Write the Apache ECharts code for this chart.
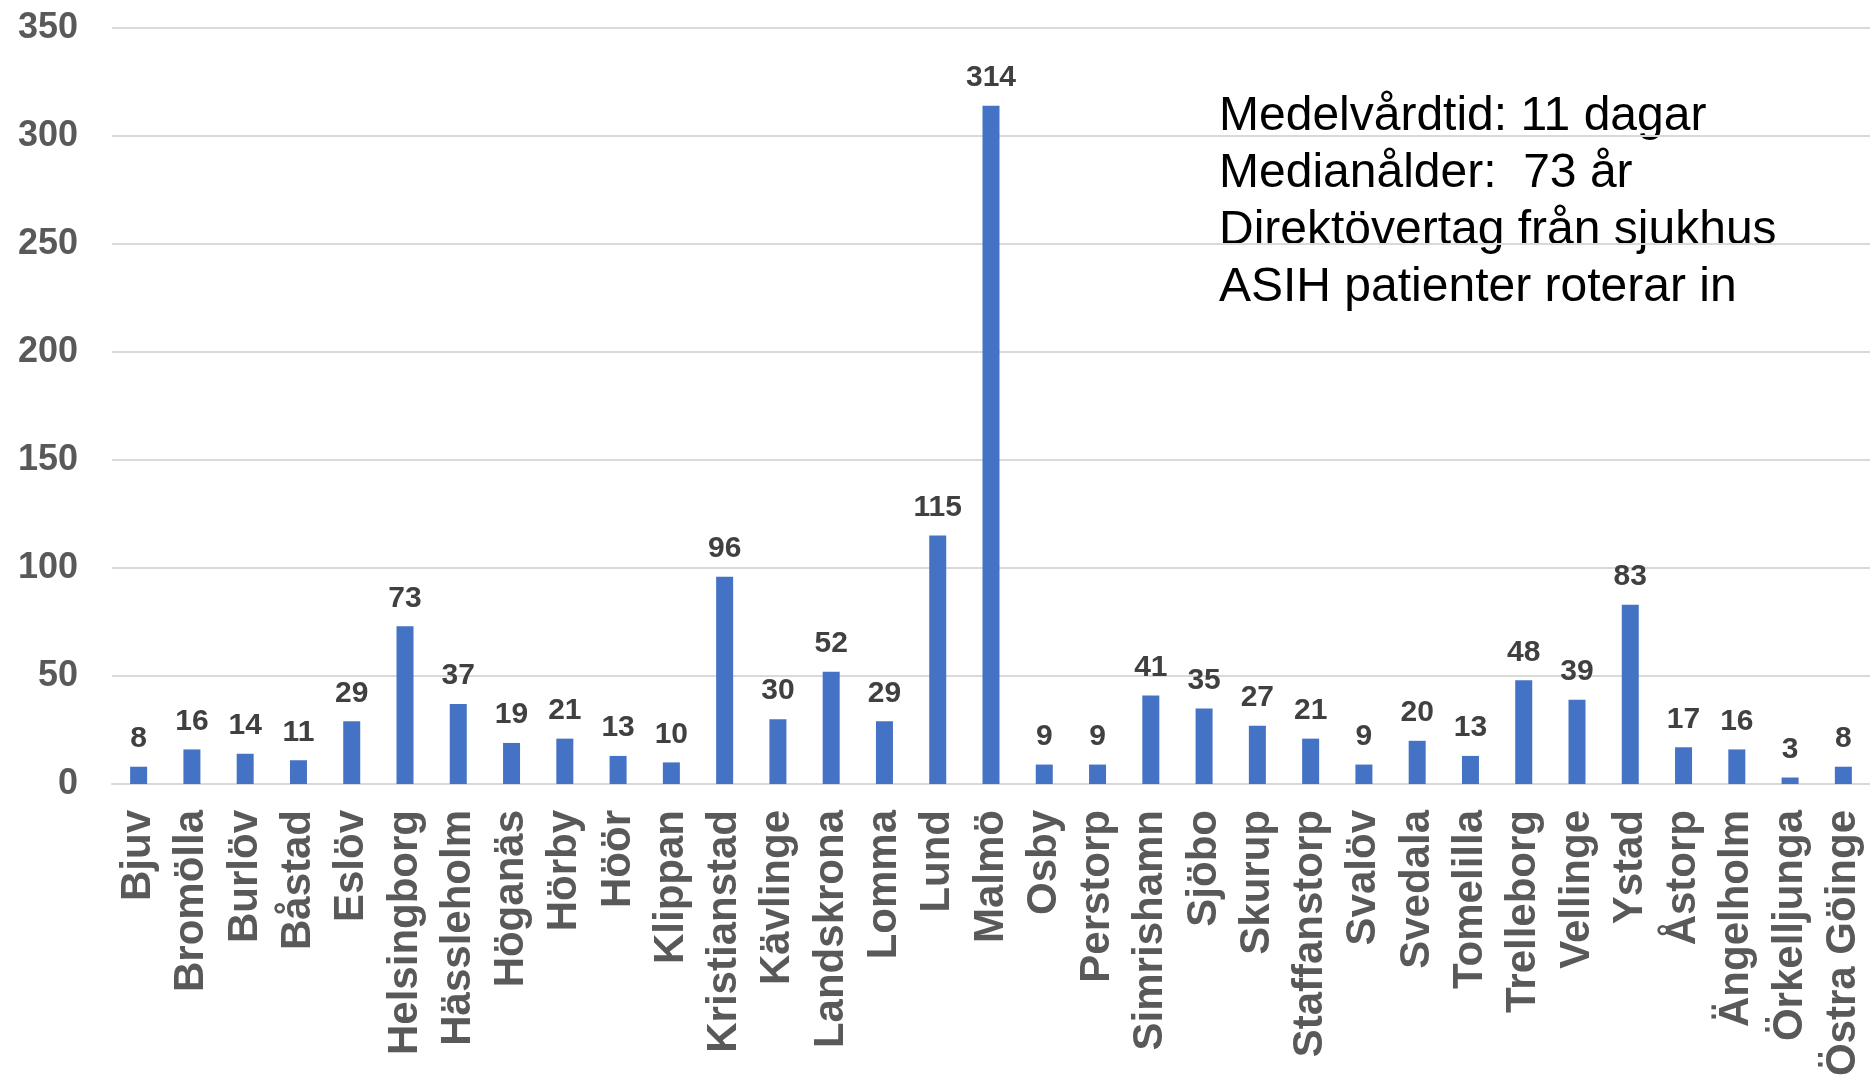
<!DOCTYPE html>
<html>
<head>
<meta charset="utf-8">
<style>
  html, body { margin: 0; padding: 0; background: #ffffff; }
  #chart { width: 1870px; height: 1081px; }
</style>
<script src="https://cdn.jsdelivr.net/npm/echarts@6/dist/echarts.min.js"></script>
</head>
<body>
<div id="chart"></div>
<script>
// Kommuner i Skåne
const kommuner = [
  'Bjuv', 'Bromölla', 'Burlöv', 'Båstad', 'Eslöv', 'Helsingborg', 'Hässleholm',
  'Höganäs', 'Hörby', 'Höör', 'Klippan', 'Kristianstad', 'Kävlinge', 'Landskrona',
  'Lomma', 'Lund', 'Malmö', 'Osby', 'Perstorp', 'Simrishamn', 'Sjöbo', 'Skurup',
  'Staffanstorp', 'Svalöv', 'Svedala', 'Tomelilla', 'Trelleborg', 'Vellinge',
  'Ystad', 'Åstorp', 'Ängelholm', 'Örkelljunga', 'Östra Göinge'
];

// Antal patienter per kommun
const antal = [
  8, 16, 14, 11, 29, 73, 37,
  19, 21, 13, 10, 96, 30, 52,
  29, 115, 314, 9, 9, 41, 35, 27,
  21, 9, 20, 13, 48, 39,
  83, 17, 16, 3, 8
];

// Y-axelns skala
const yMin = 0;
const yMax = 350;
const yStep = 50;

// Faktaruta
const fakta = [
  'Medelvårdtid: 11 dagar',
  'Medianålder:  73 år',
  'Direktövertag från sjukhus',
  'ASIH patienter roterar in'
];

const chart = echarts.init(document.getElementById('chart'), null, { renderer: 'canvas' });

chart.setOption({
  backgroundColor: '#ffffff',
  animation: false,
  grid: { left: 112, right: 0, top: 28, bottom: 297, containLabel: false },
  xAxis: {
    type: 'category',
    data: kommuner,
    axisTick: { show: false },
    axisLine: { show: true, lineStyle: { color: '#d9d9d9', width: 2 } },
    axisLabel: {
      interval: 0,
      rotate: 90,
      margin: 26,
      color: '#595959',
      fontFamily: 'Liberation Sans, Arial, sans-serif',
      fontWeight: 'bold',
      fontSize: 42
    }
  },
  yAxis: {
    type: 'value',
    min: yMin,
    max: yMax,
    interval: yStep,
    axisLine: { show: false },
    axisTick: { show: false },
    splitLine: { lineStyle: { color: '#d9d9d9', width: 2 } },
    axisLabel: {
      margin: 34,
      color: '#595959',
      fontFamily: 'Liberation Sans, Arial, sans-serif',
      fontWeight: 'bold',
      fontSize: 36
    }
  },
  series: [{
    type: 'bar',
    data: antal,
    barWidth: 17,
    itemStyle: { color: '#4472c4' },
    label: {
      show: true,
      position: 'top',
      distance: 13,
      color: '#404040',
      fontFamily: 'Liberation Sans, Arial, sans-serif',
      fontWeight: 'bold',
      fontSize: 30
    }
  }],
  graphic: [{
    type: 'text',
    left: 1219,
    top: 88,
    style: {
      text: fakta.join('\n'),
      fill: '#000000',
      font: '48px "Liberation Sans", Arial, sans-serif',
      lineHeight: 57
    }
  }]
});
</script>
</body>
</html>
